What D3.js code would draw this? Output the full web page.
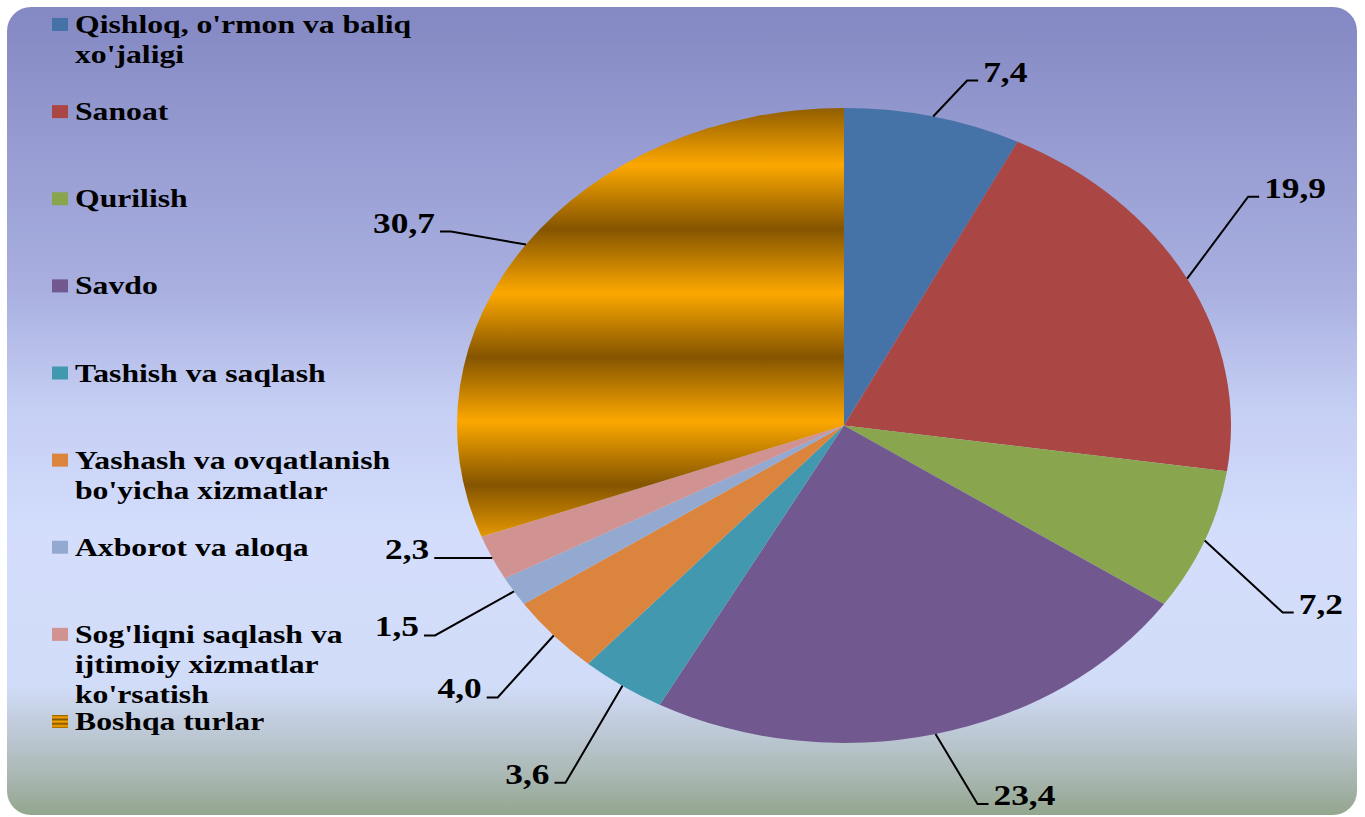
<!DOCTYPE html>
<html>
<head>
<meta charset="utf-8">
<script src="https://cdn.jsdelivr.net/npm/d3@7"></script>
<style>
  body { margin: 0; background: #fff; }
  text { font-family: "Liberation Serif", "Times New Roman", serif; font-weight: bold; fill: #000; }
</style>
</head>
<body>
<svg id="chart" width="1365" height="817"></svg>
<script>
// qiymatlar (foiz)
const categories = [
  "Qishloq, o'rmon va baliq xo'jaligi",
  "Sanoat",
  "Qurilish",
  "Savdo",
  "Tashish va saqlash",
  "Yashash va ovqatlanish bo'yicha xizmatlar",
  "Axborot va aloqa",
  "Sog'liqni saqlash va ijtimoiy xizmatlar ko'rsatish",
  "Boshqa turlar"
];
const values = [7.4, 19.9, 7.2, 23.4, 3.6, 4.0, 1.5, 2.3, 30.7];
const colors = ["#4572a7", "#aa4643", "#89a54e", "#71588f", "#4198af", "#db843d", "#93a9cf", "#d19392", "url(#gold)"];

// label leader: elbow offset from the slice edge
const labelOffsets = [[34, -36], [61, -82], [78, 72], [42, 70], [-57, 97], [-56, 62], [-79, 44], [-47, 0], [-75, -13]];

const W = 1365, H = 817;
const cx = 844, cy = 425.5, rx = 387, ry = 317.5;
const sx = rx / ry; // picture is stretched horizontally

const svg = d3.select("#chart");
const defs = svg.append("defs");

const bg = defs.append("linearGradient").attr("id", "bg")
  .attr("x1", 0).attr("y1", 0).attr("x2", 0).attr("y2", 1);
[[0, "#8488c3"], [0.35, "#a9b0e0"], [0.5, "#c6cff4"], [0.66, "#d4defc"], [0.84, "#d1dcf8"],
 [0.9, "#bcc8d4"], [0.95, "#aab8b4"], [1, "#93a68e"]]
  .forEach(s => bg.append("stop").attr("offset", s[0]).attr("stop-color", s[1]));

const gold = defs.append("linearGradient").attr("id", "gold")
  .attr("gradientUnits", "userSpaceOnUse").attr("spreadMethod", "repeat")
  .attr("x1", 0).attr("x2", 0).attr("y1", 101 - cy).attr("y2", 229 - cy);
[[0, "#845400"], [0.5, "#fca800"], [1, "#845400"]]
  .forEach(s => gold.append("stop").attr("offset", s[0]).attr("stop-color", s[1]));

const goldSmall = defs.append("linearGradient").attr("id", "goldSmall")
  .attr("spreadMethod", "repeat")
  .attr("x1", 0).attr("x2", 0).attr("y1", 0).attr("y2", 0.34);
[[0, "#845400"], [0.5, "#fca800"], [1, "#845400"]]
  .forEach(s => goldSmall.append("stop").attr("offset", s[0]).attr("stop-color", s[1]));

svg.append("rect")
  .attr("x", 7).attr("y", 7).attr("width", 1350).attr("height", 808)
  .attr("rx", 24).attr("fill", "url(#bg)");

// pie
const pie = d3.pie().sort(null).value(d => d);
const arcs = pie(values);
const arc = d3.arc().innerRadius(0).outerRadius(ry);

svg.append("g")
  .attr("transform", `translate(${cx},${cy}) scale(${sx},1)`)
  .selectAll("path")
  .data(arcs)
  .enter()
  .append("path")
  .attr("d", arc)
  .attr("fill", (d, i) => colors[i]);

// data labels
const fmt = d3.formatLocale({ decimal: ",", thousands: " ", grouping: [3], currency: ["", ""] }).format(".1f");
const labels = svg.append("g");
arcs.forEach((d, i) => {
  const a = (d.startAngle + d.endAngle) / 2;
  const x0 = cx + rx * Math.sin(a), y0 = cy - ry * Math.cos(a);
  const x1 = x0 + labelOffsets[i][0], y1 = y0 + labelOffsets[i][1];
  const side = Math.sin(a) >= 0 ? 1 : -1;
  const x2 = x1 + side * 11;
  labels.append("path")
    .attr("d", d3.line()([[x0, y0], [x1, y1], [x2, y1]]))
    .attr("fill", "none").attr("stroke", "#000").attr("stroke-width", 2);
  labels.append("text")
    .attr("transform", `translate(${x2 + side * 5},${y1 + 1}) scale(${sx},1)`)
    .attr("text-anchor", side > 0 ? "start" : "end")
    .style("font-size", "29px")
    .text(fmt(values[i]));
});

// legend
const legendY = d3.scalePoint().domain(categories).range([33, 730]);
const legend = svg.append("g");
categories.forEach((c, i) => {
  const y = legendY(c);
  legend.append("rect")
    .attr("x", 52).attr("y", y - 15).attr("width", 16).attr("height", 13)
    .attr("fill", i === 8 ? "url(#goldSmall)" : colors[i]);
  const t = legend.append("text")
    .attr("transform", `translate(75,${y}) scale(${sx},1)`)
    .style("font-size", "26px");
  // wrap
  const words = c.split(" ");
  let line = [], lineNo = 0;
  let tspan = t.append("tspan").attr("x", 0).attr("y", 0);
  words.forEach(w => {
    line.push(w);
    tspan.text(line.join(" "));
    if (tspan.node().getComputedTextLength() > 282 && line.length > 1) {
      line.pop();
      tspan.text(line.join(" "));
      line = [w];
      lineNo++;
      tspan = t.append("tspan").attr("x", 0).attr("y", lineNo * 30).text(w);
    }
  });
});
</script>
</body>
</html>
